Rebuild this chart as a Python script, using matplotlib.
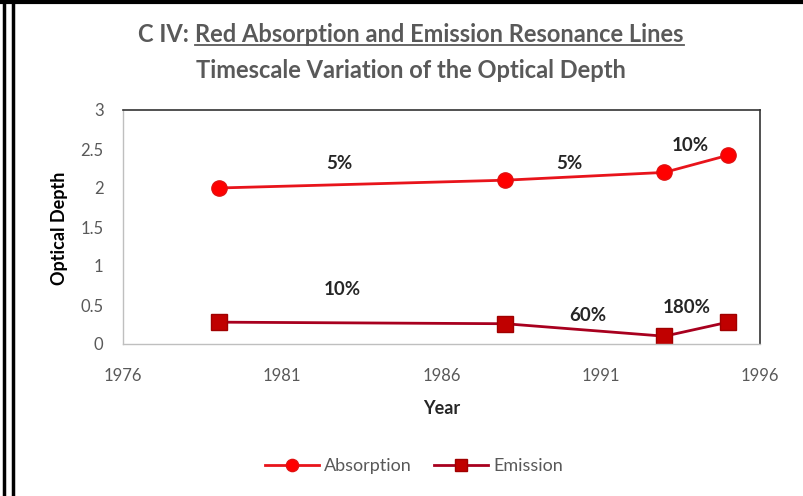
import matplotlib
matplotlib.use("Agg")
import matplotlib.pyplot as plt
from matplotlib.lines import Line2D

years_abs = [1979, 1988, 1993, 1995]
absorption = [2.0, 2.1, 2.2, 2.42]
years_em = [1979, 1988, 1993, 1995]
emission = [0.28, 0.26, 0.10, 0.28]

abs_labels = ["5%", "5%", "10%"]
abs_label_pos = [(1982.8, 2.32), (1990.0, 2.31), (1993.8, 2.54)]
em_labels = ["10%", "60%", "180%"]
em_label_pos = [(1982.9, 0.70), (1990.6, 0.36), (1993.7, 0.47)]

xticks = [1976, 1981, 1986, 1991, 1996]
yticks = [0, 0.5, 1, 1.5, 2, 2.5, 3]
ytick_labels = ["0", "0.5", "1", "1.5", "2", "2.5", "3"]

FONT = "Lato"
GRAY = "#595959"

fig = plt.figure(figsize=(8.04, 4.96), dpi=100)
ax = fig.add_axes([123/804, 1 - 344/496, (760-123)/804, (344-110)/496])

ax.plot(years_abs, absorption, color="#E8141B", lw=2.0, marker="o", ms=11,
        markerfacecolor="#FF0000", markeredgecolor="#E01010", label="Absorption")
ax.plot(years_em, emission, color="#A8001E", lw=2.0, marker="s", ms=11,
        markerfacecolor="#C00000", markeredgecolor="#A00000", label="Emission")

for t, (x, y) in zip(abs_labels, abs_label_pos):
    ax.text(x, y, t, ha="center", va="center", fontsize=13.5, fontweight="bold",
            color="#262626", family=FONT)
for t, (x, y) in zip(em_labels, em_label_pos):
    ax.text(x, y, t, ha="center", va="center", fontsize=13.5, fontweight="bold",
            color="#262626", family=FONT)

ax.set_xlim(1976, 1996)
ax.set_ylim(0, 3)
ax.set_xticks(xticks)
ax.set_xticklabels([str(v) for v in xticks], family=FONT, fontsize=12, color=GRAY)
ax.set_yticks(yticks)
ax.set_yticklabels(ytick_labels, family=FONT, fontsize=12, color=GRAY)
ax.tick_params(axis="x", length=0, pad=17)
ax.tick_params(axis="y", length=0, pad=14)

for s in ["left", "bottom"]:
    ax.spines[s].set_color("#BFBFBF")
    ax.spines[s].set_linewidth(1)
for s in ["top", "right"]:
    ax.spines[s].set_color("#333333")
    ax.spines[s].set_linewidth(1.2)

ax.set_xlabel("Year", family=FONT, fontsize=13, fontweight="bold", color="#262626")
ax.set_ylabel("Optical Depth", family=FONT, fontsize=13, fontweight="bold", color="black")
ax.xaxis.set_label_coords((442 - 123) / 637, (344 - 400) / 234)
ax.yaxis.set_label_coords((68 - 123) / 637, (344 - 228) / 234)

leg = fig.legend(loc="center", bbox_to_anchor=(414/804, 1 - 466/496), ncol=2, frameon=False,
                 prop={"family": FONT, "size": 13}, handlelength=3.0, markerscale=0.8,
                 columnspacing=1.2, handletextpad=0.3)
for t in leg.get_texts():
    t.set_color(GRAY)

# Title with partial underline
fig.canvas.draw()
r = fig.canvas.get_renderer()
tsize = 17
t1 = fig.text(0, 1 - 35/496, "C IV: ", family=FONT, fontsize=tsize, fontweight="bold",
              color=GRAY, ha="left", va="center")
t2 = fig.text(0, 1 - 35/496, "Red Absorption and Emission Resonance Lines", family=FONT,
              fontsize=tsize, fontweight="bold", color=GRAY, ha="left", va="center")
w1 = t1.get_window_extent(r).width
w2 = t2.get_window_extent(r).width
cx = 411
x0 = cx - (w1 + w2) / 2
t1.set_x(x0 / 804)
t2.set_x((x0 + w1) / 804)
fig.canvas.draw()
bb = t2.get_window_extent(r)
uy = bb.y0 + 2
fig.add_artist(Line2D([bb.x0 / 804, bb.x1 / 804], [uy / 496, uy / 496], color=GRAY, lw=1.3,
                      transform=fig.transFigure))
fig.text(cx / 804, 1 - 70/496, "Timescale Variation of the Optical Depth", family=FONT,
         fontsize=tsize, fontweight="bold", color=GRAY, ha="center", va="center")

# Outer border lines (frame of the picture)
fig.add_artist(Line2D([0, 1], [1 - 1.5/496, 1 - 1.5/496], color="black", lw=3, transform=fig.transFigure))
fig.add_artist(Line2D([4/804, 4/804], [0, 1], color="black", lw=2.5, transform=fig.transFigure))
fig.add_artist(Line2D([13/804, 13/804], [0, 1], color="black", lw=2.5, transform=fig.transFigure))

fig.savefig("out.png", dpi=100)
